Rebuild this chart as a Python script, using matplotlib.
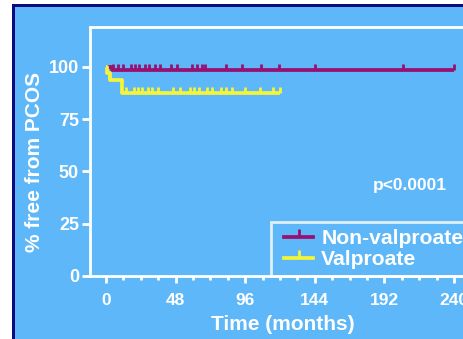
import numpy as np
import matplotlib
matplotlib.use("Agg")
import matplotlib.pyplot as plt
from matplotlib.patches import Rectangle
from matplotlib.ticker import MultipleLocator
from matplotlib.lines import Line2D
from matplotlib.legend_handler import HandlerLine2D

# ---- data ----
nonval_times = [0, 4, 240]
nonval_surv = [100, 98.5, 98.5]
nonval_censor = [5, 8, 12, 17, 20, 23, 27, 30, 34, 37, 45, 49, 59, 63, 66, 68,
                 83, 94, 107, 119, 144, 205, 240]

val_times = [0, 1, 3, 11, 120]
val_surv = [100, 96.9, 93.8, 87.5, 87.5]
val_censor = [14, 19, 22, 25, 29, 32, 36, 46, 51, 58, 61, 64, 70, 73, 79, 83,
              87, 96, 106, 115, 120]

x_ticks = [0, 48, 96, 144, 192, 240]
y_ticks = [0, 25, 50, 75, 100]
labels = ["Non-valproate", "Valproate"]
p_text = "p<0.0001"

# ---- style ----
BG = "#5DB7F8"
NAVY = "#0B0B7E"
PURPLE = "#9A1070"
YELLOW = "#F4F43A"
LW = 2.7
plt.rcParams['font.family'] = ['Liberation Sans', 'DejaVu Sans']
plt.rcParams['font.weight'] = 'bold'

W, H = 464, 339
fig = plt.figure(figsize=(W / 100, H / 100), dpi=100, facecolor="white")

# frame of the slide
fig.patches.append(Rectangle((12 / W, 0), 1, 1 - 4 / H, transform=fig.transFigure,
                             facecolor=NAVY, edgecolor="none", zorder=-2))
fig.patches.append(Rectangle((15 / W, 0), 1, 1 - 7 / H, transform=fig.transFigure,
                             facecolor=BG, edgecolor="none", zorder=-1))

left, right, top, bottom = 90, 470, 27, 276
ax = fig.add_axes([left / W, (H - bottom) / H, (right - left) / W, (bottom - top) / H])
ax.set_facecolor(BG)
ax.patch.set_alpha(0)

px_per_month = 1.45
x0px = 106
ax.set_xlim((left - x0px) / px_per_month, (right - x0px) / px_per_month)
ax.set_ylim(0, (bottom - top) / 2.09)

for s in ax.spines.values():
    s.set_color("white")
    s.set_linewidth(2)


def step_value(times, surv, t):
    idx = np.searchsorted(times, t, side="right") - 1
    return np.asarray(surv)[idx]


for times, surv, cens, col in [
    (nonval_times, nonval_surv, nonval_censor, PURPLE),
    (val_times, val_surv, val_censor, YELLOW),
]:
    ax.step(times, surv, where="post", color=col, lw=LW, solid_capstyle="butt",
            zorder=3)
    cy = step_value(times, surv, cens)
    ax.plot(cens, cy, linestyle="none", marker=2, markersize=4.5, mew=2,
            color=col, zorder=4)

ax.set_xticks(x_ticks)
ax.xaxis.set_minor_locator(MultipleLocator(12))
ax.set_yticks(y_ticks)
ax.tick_params(axis="x", which="major", colors="white", length=5, width=2,
               labelsize=12.5, pad=7)
ax.tick_params(axis="x", which="minor", colors="white", length=3, width=2)
ax.tick_params(axis="y", colors="white", length=6, width=2, labelsize=13, pad=2)
for lbl in ax.get_xticklabels() + ax.get_yticklabels():
    lbl.set_fontweight("bold")

ax.set_xlabel("Time (months)", color="white", fontsize=15, fontweight="bold",
              va="center")
ax.xaxis.set_label_coords((283 - left) / (right - left), (bottom - 325) / (bottom - top))
ax.set_ylabel("% free from PCOS", color="white", fontsize=15, fontweight="bold",
              va="center")
ax.yaxis.set_label_coords((35 - left) / (right - left), (bottom - 162) / (bottom - top))

ax.text((410 - left) / (right - left), (bottom - 186) / (bottom - top), p_text,
        transform=ax.transAxes, color="white", fontsize=12.5, fontweight="bold",
        ha="center", va="center")


class ShiftedLineHandler(HandlerLine2D):
    """Line handle drawn in the right part of the handle box."""
    def create_artists(self, legend, orig_handle, xdescent, ydescent, width,
                       height, fontsize, trans):
        shift = 0.3 * fontsize
        return super().create_artists(legend, orig_handle, xdescent - shift,
                                      ydescent, width - shift, height,
                                      fontsize, trans)


handles = [Line2D([0, 1], [0, 0], color=c, lw=LW, marker=2, markersize=5.5,
                  mew=2) for c in (PURPLE, YELLOW)]
leg = ax.legend(handles, labels, loc="lower left",
                bbox_to_anchor=((271 - left) / (right - left), 0),
                borderaxespad=0, frameon=True, fancybox=False,
                prop={"size": 15.2, "weight": "bold"},
                handlelength=1.65, handletextpad=0.4, labelspacing=0.1,
                borderpad=0.33, numpoints=1,
                handler_map={Line2D: ShiftedLineHandler(numpoints=1)})
leg.get_frame().set_facecolor("none")
leg.get_frame().set_edgecolor("white")
leg.get_frame().set_linewidth(2)
for t in leg.get_texts():
    t.set_color("white")

fig.savefig("out.png", dpi=100, facecolor=fig.get_facecolor())
